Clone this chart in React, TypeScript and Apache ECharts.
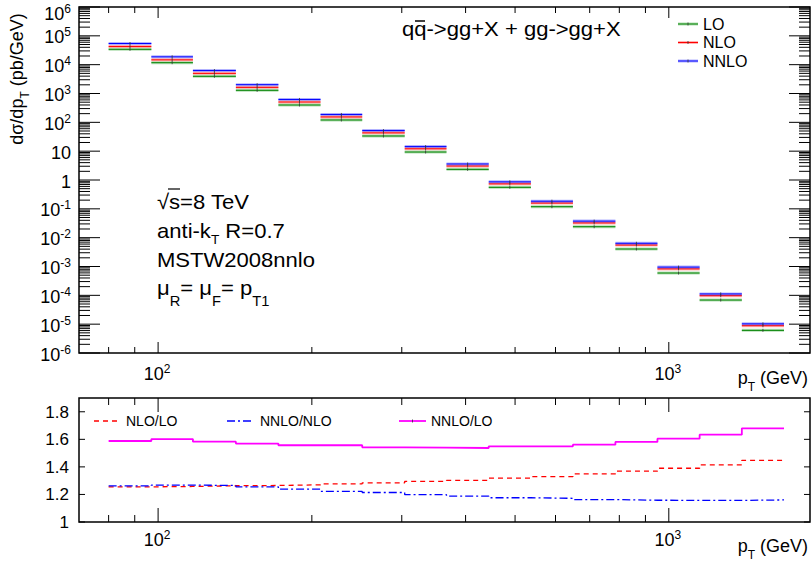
import React, { useEffect, useRef } from "react";
import * as echarts from "echarts";

// ---------------- data ----------------
const binEdges = [80, 97, 117, 142, 172, 208, 251, 304, 367, 444, 537, 649, 786, 950, 1149, 1390, 1681];
const loValues = [34100, 11700, 3950, 1290, 399, 120.5, 33.6, 9.34, 2.34, 0.557, 0.1186, 0.024, 0.00404, 0.000594, 0.0000687, 0.0000061];
const nloValues = [42800, 14700, 4990, 1632, 507, 154, 43.1, 12.1, 3.05, 0.734, 0.158, 0.0324, 0.00553, 0.000826, 0.0000971, 0.00000883];
const nnloValues = [54200, 18700, 6250, 2024, 621, 187.6, 51.8, 14.4, 3.6, 0.863, 0.184, 0.0375, 0.00639, 0.000953, 0.000112, 0.00001025];
const ratioNloLo = [1.255, 1.258, 1.263, 1.265, 1.27, 1.277, 1.284, 1.295, 1.302, 1.318, 1.33, 1.349, 1.369, 1.39, 1.414, 1.448];
const ratioNnloNlo = [1.262, 1.268, 1.265, 1.255, 1.238, 1.222, 1.214, 1.198, 1.188, 1.176, 1.172, 1.163, 1.158, 1.157, 1.157, 1.16];
const ratioNnloLo = [1.588, 1.602, 1.583, 1.569, 1.557, 1.557, 1.542, 1.54, 1.537, 1.549, 1.549, 1.561, 1.581, 1.605, 1.634, 1.68];

const xRange = [70, 1890];
const yRangeTop = [1e-6, 1e6];
const yRangeRatio = [1, 1.9];
const xMajorTicks = [100, 1000];
const xMajorExponents = [2, 3];
const xMinorTicks = [80, 90, 200, 300, 400, 500, 600, 700, 800, 900];
const yDecadeExponents = [-6, -5, -4, -3, -2, -1, 0, 1, 2, 3, 4, 5, 6];
const yMinorMultipliers = [2, 3, 4, 5, 6, 7, 8, 9];
const ratioTicks = [1, 1.2, 1.4, 1.6, 1.8];
const ratioTickLabels = ["1", "1.2", "1.4", "1.6", "1.8"];

// ---------------- helpers ----------------
const FONT = "'Liberation Sans', Arial, Helvetica, sans-serif";
const BIG = 21;
const STRETCH = 1.05;

function binSeries(name: string, values: number[], color: string, band: string, z: number) {
  return {
    type: "custom",
    name,
    xAxisIndex: 0,
    yAxisIndex: 0,
    clip: false,
    silent: true,
    z,
    encode: { x: [0, 1], y: 2 },
    data: values.map((v, i) => [binEdges[i], binEdges[i + 1], v]),
    renderItem: (_p: any, api: any) => {
      const x0 = api.value(0);
      const x1 = api.value(1);
      const y = api.value(2);
      const a = api.coord([x0, y]);
      const b = api.coord([x1, y]);
      const c = api.coord([Math.sqrt(x0 * x1), y]);
      return {
        type: "group",
        children: [
          { type: "rect", shape: { x: a[0], y: a[1] - 1.5, width: b[0] - a[0], height: 3 }, style: { fill: band } },
          { type: "line", shape: { x1: a[0], y1: a[1], x2: b[0], y2: b[1] }, style: { stroke: color, lineWidth: 1 } },
          { type: "line", shape: { x1: c[0], y1: c[1] - 1.5, x2: c[0], y2: c[1] + 1.5 }, style: { stroke: "#333", lineWidth: 0.8 } },
        ],
      };
    },
  };
}

function stepData(vals: number[]) {
  const pts = vals.map((v, i) => [binEdges[i], v]);
  pts.push([binEdges[binEdges.length - 1], vals[vals.length - 1]]);
  return pts;
}

function isDecade(v: number) {
  const l = Math.log10(v);
  return Math.abs(l - Math.round(l)) < 1e-6;
}

const supRich = (base: number, sup: number, lh: number, slh: number) => ({
  b: { fontSize: base, fontFamily: FONT, lineHeight: lh, fill: "#000" },
  s: { fontSize: sup, fontFamily: FONT, lineHeight: slh, verticalAlign: "top", fill: "#000" },
});
const subRich = (base: number, sub: number, lh: number, slh: number) => ({
  n: { fontSize: base, fontFamily: FONT, lineHeight: lh, fill: "#000" },
  s: { fontSize: sub, fontFamily: FONT, lineHeight: slh, verticalAlign: "bottom", fill: "#000" },
});

function decadeLabel(k: number) {
  if (k === 0) return "{b|1}";
  if (k === 1) return "{b|10}";
  return "{b|10}{s|" + k + "}";
}

const yTickValues: number[] = [];
yDecadeExponents.forEach((k) => {
  yTickValues.push(Math.pow(10, k));
  if (k < yDecadeExponents[yDecadeExponents.length - 1]) {
    yMinorMultipliers.forEach((m) => yTickValues.push(m * Math.pow(10, k)));
  }
});
const xTickValues = [...xMajorTicks, ...xMinorTicks];

function xTickSeries(axisIdx: number, yr: number[], majorLen: number, minorLen: number) {
  return {
    type: "custom",
    xAxisIndex: axisIdx,
    yAxisIndex: axisIdx,
    clip: false,
    silent: true,
    z: 20,
    data: xTickValues.map((v) => [v, yr[0]]),
    renderItem: (_p: any, api: any) => {
      const v = api.value(0);
      const len = xMajorTicks.indexOf(v) >= 0 ? majorLen : minorLen;
      const b = api.coord([v, yr[0]]);
      const t = api.coord([v, yr[1]]);
      return {
        type: "group",
        children: [
          { type: "line", shape: { x1: b[0], y1: b[1], x2: b[0], y2: b[1] - len }, style: { stroke: "#000", lineWidth: 1 } },
          { type: "line", shape: { x1: t[0], y1: t[1], x2: t[0], y2: t[1] + len }, style: { stroke: "#000", lineWidth: 1 } },
        ],
      };
    },
  };
}

function xLabelSeries(axisIdx: number, yr: number[], dy: number) {
  return {
    type: "custom",
    xAxisIndex: axisIdx,
    yAxisIndex: axisIdx,
    clip: false,
    silent: true,
    z: 20,
    data: xMajorTicks.map((v, i) => [v, yr[0], xMajorExponents[i]]),
    renderItem: (_p: any, api: any) => {
      const p = api.coord([api.value(0), yr[0]]);
      return {
        type: "text",
        x: p[0] - 1,
        y: p[1] + dy,
        style: {
          text: "{b|10}{s|" + api.value(2) + "}",
          rich: supRich(18, 12, 22, 13),
          align: "center",
          verticalAlign: "middle",
        },
      };
    },
  };
}

function bigText(x: number, y: number, style: any) {
  return {
    type: "text", x, y, scaleX: STRETCH, silent: true,
    style: { fontSize: BIG, fontFamily: FONT, fill: "#000", align: "left", verticalAlign: "middle", ...style },
  };
}

export default function App() {
  const ref = useRef<HTMLDivElement>(null);

  useEffect(() => {
    if (!ref.current) return;
    const chart = echarts.init(ref.current, undefined, { renderer: "svg" });

    const hiddenAxis = {
      axisLine: { show: false },
      axisTick: { show: false },
      axisLabel: { show: false },
      splitLine: { show: false },
    };

    const legendTop = [
      { label: "LO", color: "#008000", band: "rgba(0,150,0,0.3)", y: 24 },
      { label: "NLO", color: "#ff0000", band: "rgba(255,0,0,0.3)", y: 42.5 },
      { label: "NNLO", color: "#0000ff", band: "rgba(0,0,255,0.3)", y: 61 },
    ];

    const graphic: any[] = [];
    legendTop.forEach((e) => {
      graphic.push({ type: "rect", shape: { x: 678, y: e.y - 1.5, width: 20, height: 3 }, style: { fill: e.band }, silent: true });
      graphic.push({ type: "line", shape: { x1: 678, y1: e.y, x2: 698, y2: e.y }, style: { stroke: e.color, lineWidth: 1 }, silent: true });
      graphic.push({ type: "line", shape: { x1: 688, y1: e.y - 1.5, x2: 688, y2: e.y + 1.5 }, style: { stroke: "#333", lineWidth: 0.8 }, silent: true });
      graphic.push({
        type: "text", x: 703, y: e.y, silent: true,
        style: { text: e.label, fontSize: 16, fontFamily: FONT, fill: "#000", align: "left", verticalAlign: "middle" },
      });
    });

    // title
    graphic.push(bigText(402, 29.5, { text: "qq->gg+X + gg->gg+X" }));
    graphic.push({ type: "line", shape: { x1: 415, y1: 21, x2: 425, y2: 21 }, style: { stroke: "#000", lineWidth: 1.5 }, silent: true });

    // annotations
    graphic.push(bigText(157, 202.5, { text: "√s=8 TeV" }));
    graphic.push({ type: "line", shape: { x1: 168, y1: 189, x2: 180, y2: 189 }, style: { stroke: "#000", lineWidth: 1.2 }, silent: true });
    graphic.push(bigText(157, 231.5, { text: "{n|anti-k}{s|T}{n| R=0.7}", rich: subRich(BIG, 13, 30, 14) }));
    graphic.push(bigText(157, 260, { text: "MSTW2008nnlo" }));
    graphic.push(bigText(157, 288, { text: "{n|μ}{s|R}{n|= μ}{s|F}{n|= p}{s|T1}", rich: subRich(BIG, 14, 40, 14) }));

    // y title
    graphic.push({
      type: "text", x: 17, y: 79, rotation: Math.PI / 2, silent: true,
      style: { text: "{n|dσ/dp}{s|T}{n| (pb/GeV)}", rich: subRich(18, 12, 28, 12), align: "center", verticalAlign: "middle" },
    });

    // x titles
    graphic.push({
      type: "text", x: 808, y: 378, silent: true,
      style: { text: "{n|p}{s|T}{n| (GeV)}", rich: subRich(18, 12, 30, 10), align: "right", verticalAlign: "middle" },
    });
    graphic.push({
      type: "text", x: 808, y: 546, silent: true,
      style: { text: "{n|p}{s|T}{n| (GeV)}", rich: subRich(18, 12, 30, 10), align: "right", verticalAlign: "middle" },
    });

    // ratio legend
    const ly = 421;
    graphic.push({ type: "line", shape: { x1: 94, y1: ly, x2: 120, y2: ly }, style: { stroke: "#ff0000", lineWidth: 1.3, lineDash: [5, 4] }, silent: true });
    graphic.push({ type: "text", x: 126, y: ly, silent: true, style: { text: "NLO/LO", fontSize: 14, fontFamily: FONT, fill: "#000", align: "left", verticalAlign: "middle" } });
    graphic.push({ type: "line", shape: { x1: 227, y1: ly, x2: 254, y2: ly }, style: { stroke: "#0000ff", lineWidth: 1.3, lineDash: [8, 3, 2, 3] }, silent: true });
    graphic.push({ type: "text", x: 260, y: ly, silent: true, style: { text: "NNLO/NLO", fontSize: 14, fontFamily: FONT, fill: "#000", align: "left", verticalAlign: "middle" } });
    graphic.push({ type: "line", shape: { x1: 399, y1: ly, x2: 426, y2: ly }, style: { stroke: "#ff00ff", lineWidth: 1.8 }, silent: true });
    graphic.push({ type: "line", shape: { x1: 412.5, y1: ly - 1.5, x2: 412.5, y2: ly + 1.5 }, style: { stroke: "#333", lineWidth: 0.8 }, silent: true });
    graphic.push({ type: "text", x: 431, y: ly, silent: true, style: { text: "NNLO/LO", fontSize: 14, fontFamily: FONT, fill: "#000", align: "left", verticalAlign: "middle" } });

    const option: any = {
      animation: false,
      backgroundColor: "#ffffff",
      grid: [
        { left: 79, top: 7, width: 731, height: 346, show: true, borderColor: "#000", borderWidth: 1.5, backgroundColor: "transparent" },
        { left: 79, top: 398, width: 731, height: 124, show: true, borderColor: "#000", borderWidth: 1.5, backgroundColor: "transparent" },
      ],
      xAxis: [
        { type: "log", logBase: 10, min: xRange[0], max: xRange[1], gridIndex: 0, ...hiddenAxis },
        { type: "log", logBase: 10, min: xRange[0], max: xRange[1], gridIndex: 1, ...hiddenAxis },
      ],
      yAxis: [
        { type: "log", logBase: 10, min: yRangeTop[0], max: yRangeTop[1], gridIndex: 0, ...hiddenAxis },
        { type: "value", min: yRangeRatio[0], max: yRangeRatio[1], gridIndex: 1, ...hiddenAxis },
      ],
      graphic,
      series: [
        binSeries("LO", loValues, "#008000", "rgba(0,150,0,0.3)", 5),
        binSeries("NLO", nloValues, "#ff0000", "rgba(255,0,0,0.3)", 6),
        binSeries("NNLO", nnloValues, "#0000ff", "rgba(0,0,255,0.3)", 7),
        {
          type: "line", name: "NLO/LO", xAxisIndex: 1, yAxisIndex: 1, step: "end", symbol: "none", silent: true,
          data: stepData(ratioNloLo), lineStyle: { color: "#ff0000", width: 1.3, type: [5, 4] },
        },
        {
          type: "line", name: "NNLO/NLO", xAxisIndex: 1, yAxisIndex: 1, step: "end", symbol: "none", silent: true,
          data: stepData(ratioNnloNlo), lineStyle: { color: "#0000ff", width: 1.3, type: [8, 3, 2, 3] },
        },
        {
          type: "line", name: "NNLO/LO", xAxisIndex: 1, yAxisIndex: 1, step: "end", symbol: "none", silent: true,
          data: stepData(ratioNnloLo), lineStyle: { color: "#ff00ff", width: 1.8 },
        },
        // top y ticks (left & right)
        {
          type: "custom", xAxisIndex: 0, yAxisIndex: 0, clip: false, silent: true, z: 20,
          data: yTickValues.map((v) => [xRange[0], v]),
          renderItem: (_p: any, api: any) => {
            const v = api.value(1);
            const len = isDecade(v) ? 21 : 11;
            const L = api.coord([xRange[0], v]);
            const R = api.coord([xRange[1], v]);
            return {
              type: "group",
              children: [
                { type: "line", shape: { x1: L[0], y1: L[1], x2: L[0] + len, y2: L[1] }, style: { stroke: "#000", lineWidth: 1 } },
                { type: "line", shape: { x1: R[0] - len, y1: R[1], x2: R[0], y2: R[1] }, style: { stroke: "#000", lineWidth: 1 } },
              ],
            };
          },
        },
        // top y labels
        {
          type: "custom", xAxisIndex: 0, yAxisIndex: 0, clip: false, silent: true, z: 20,
          data: yDecadeExponents.map((k) => [xRange[0], Math.pow(10, k), k]),
          renderItem: (_p: any, api: any) => {
            const p = api.coord([xRange[0], api.value(1)]);
            const dy = p[1] < 15 ? 6.5 : 1.5;
            return {
              type: "text",
              x: p[0] - 8,
              y: p[1] + dy,
              style: {
                text: decadeLabel(api.value(2)),
                rich: supRich(18, 12, 22, 11),
                align: "right",
                verticalAlign: "middle",
              },
            };
          },
        },
        xTickSeries(0, yRangeTop, 11, 6),
        xLabelSeries(0, yRangeTop, 20.5),
        xTickSeries(1, yRangeRatio, 14, 7),
        xLabelSeries(1, yRangeRatio, 18),
        // ratio y ticks
        {
          type: "custom", xAxisIndex: 1, yAxisIndex: 1, clip: false, silent: true, z: 20,
          data: ratioTicks.map((v, i) => [xRange[0], v, i]),
          renderItem: (_p: any, api: any) => {
            const v = api.value(1);
            const L = api.coord([xRange[0], v]);
            const R = api.coord([xRange[1], v]);
            return {
              type: "group",
              children: [
                { type: "line", shape: { x1: L[0], y1: L[1], x2: L[0] + 6, y2: L[1] }, style: { stroke: "#000", lineWidth: 1 } },
                { type: "line", shape: { x1: R[0] - 6, y1: R[1], x2: R[0], y2: R[1] }, style: { stroke: "#000", lineWidth: 1 } },
                {
                  type: "text", x: L[0] - 10, y: L[1] + 0.5,
                  style: { text: ratioTickLabels[api.value(2)], fontSize: 17, fontFamily: FONT, fill: "#000", align: "right", verticalAlign: "middle" },
                },
              ],
            };
          },
        },
      ],
    };

    chart.setOption(option);
    return () => chart.dispose();
  }, []);

  return <div ref={ref} style={{ position: "fixed", left: 0, top: 0, width: 811, height: 567 }} />;
}
